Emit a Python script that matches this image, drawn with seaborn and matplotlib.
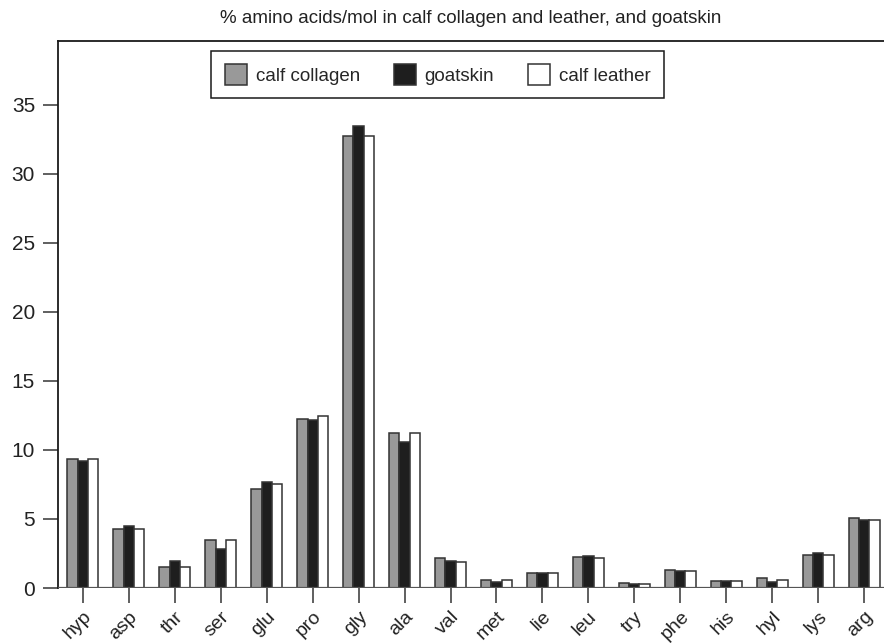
import pandas as pd
import matplotlib.pyplot as plt
import seaborn as sns
from matplotlib.patches import Patch

# ================================================================
acids = ["hyp", "asp", "thr", "ser", "glu", "pro", "gly", "ala", "val",
         "met", "lie", "leu", "try", "phe", "his", "hyl", "lys", "arg"]
calf_collagen = [9.37, 4.27, 1.53, 3.45, 7.20, 12.23, 32.75, 11.24, 2.16,
                 0.56, 1.07, 2.26, 0.39, 1.33, 0.51, 0.70, 2.38, 5.07]
goatskin = [9.20, 4.47, 1.92, 2.82, 7.67, 12.16, 33.43, 10.60, 1.99,
            0.46, 1.07, 2.30, 0.32, 1.21, 0.51, 0.41, 2.57, 4.93]
calf_leather = [9.37, 4.30, 1.53, 3.45, 7.52, 12.43, 32.75, 11.24, 1.89,
                0.56, 1.07, 2.18, 0.32, 1.21, 0.51, 0.60, 2.38, 4.93]
series = ["calf collagen", "goatskin", "calf leather"]
colors = ["#999999", "#1e1e1e", "#ffffff"]
# ================================================================

df = pd.DataFrame({
    "acid": acids * 3,
    "value": calf_collagen + goatskin + calf_leather,
    "sample": sum([[s] * len(acids) for s in series], []),
})

sns.set_theme(style="ticks")
plt.rcParams["font.family"] = ["Liberation Sans", "DejaVu Sans"]

fig = plt.figure(figsize=(8.84, 6.43), dpi=100)
ax = fig.add_axes([58 / 884, 55 / 643, 829 / 884, 547 / 643])

sns.barplot(ax=ax, data=df, x="acid", y="value", hue="sample", hue_order=series,
            palette=colors, width=0.675, edgecolor="#333333", linewidth=1.1,
            saturation=1, legend=False)

ax.set_xlim(-0.544, 17.5)
ax.set_ylim(0, 39.6)
ax.set_yticks([0, 5, 10, 15, 20, 25, 30, 35])
ax.set_xlabel("")
ax.set_ylabel("")

# Open frame: top and left only, zero line in grey.
for s in ["bottom", "right"]:
    ax.spines[s].set_visible(False)
for s in ["top", "left"]:
    ax.spines[s].set_visible(True)
    ax.spines[s].set_color("#1a1a1a")
    ax.spines[s].set_linewidth(1.3)
ax.axhline(0, color="#555555", lw=1.6, zorder=5)

ax.tick_params(axis="both", which="major", direction="out", length=10.5, width=1.2,
               color="#444444", labelsize=15, labelcolor="#222222", pad=6,
               bottom=True, left=True)
ax.tick_params(axis="x", labelsize=14, pad=4)
plt.setp(ax.get_xticklabels(), rotation=45, ha="right", va="top", rotation_mode="anchor")

# Legend.
handles = [Patch(facecolor=c, edgecolor="#333333", linewidth=1.1) for c in colors]
leg = fig.legend(handles, series, loc="center", bbox_to_anchor=(0.495, 0.884), ncol=3,
                 fontsize=13.5, frameon=True, fancybox=False, framealpha=1,
                 edgecolor="#1a1a1a", handlelength=1.2, handleheight=1.35,
                 handletextpad=0.45, columnspacing=1.8, borderpad=0.7)
leg.get_frame().set_linewidth(1.1)

fig.text(0.532, 0.972, "% amino acids/mol in calf collagen and leather, and goatskin",
         ha="center", va="center", fontsize=13.5, color="#222222")

plt.savefig("out.png", dpi=100)
